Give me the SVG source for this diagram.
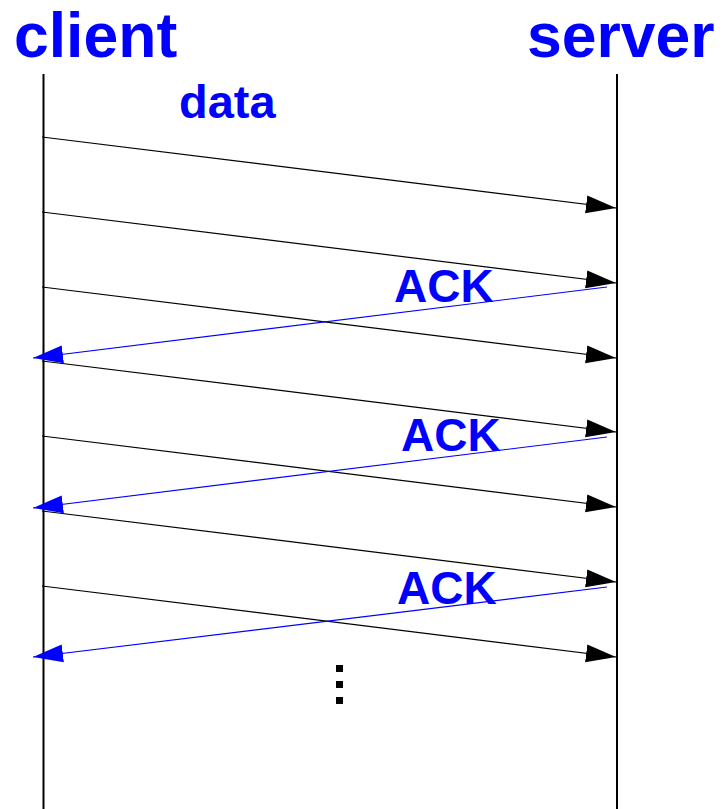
<svg xmlns="http://www.w3.org/2000/svg" width="724" height="809" viewBox="0 0 724 809">
<style>
.lbl{font-family:"Liberation Sans",Arial,sans-serif;font-weight:bold;fill:#0000ff}
.life{stroke:#000;stroke-width:2}
.data{stroke:#000;stroke-width:1.2;fill:none}
.ack{stroke:#0000ff;stroke-width:1.2;fill:none}
</style>
<defs>
<marker id="ab" markerUnits="userSpaceOnUse" markerWidth="32" markerHeight="20" refX="30" refY="9" orient="auto" viewBox="0 0 32 18">
<path d="M0,0 L30,9 L0,18 Z" fill="#000"/>
</marker>
<marker id="aw" markerUnits="userSpaceOnUse" markerWidth="32" markerHeight="20" refX="30" refY="9" orient="auto" viewBox="0 0 32 18">
<path d="M0,0 L30,9 L0,18 Z" fill="#0000ff"/>
</marker>
</defs>
<g id="client">
<text class="lbl" x="14" y="57" font-size="62.5">client</text>
<line class="life" x1="43.5" y1="74" x2="43.5" y2="809"/>
</g>
<g id="server">
<text class="lbl" x="527" y="57" font-size="62.5">server</text>
<line class="life" x1="617" y1="74" x2="617" y2="809"/>
</g>
<g id="labels">
<text class="lbl" x="179" y="118" font-size="47">data</text>
<text class="lbl" x="394" y="302" font-size="46">ACK</text>
<text class="lbl" x="401" y="451" font-size="46">ACK</text>
<text class="lbl" x="397" y="604" font-size="46">ACK</text>
</g>
<g id="connectors">
<line class="data" x1="42" y1="137" x2="616" y2="208" marker-end="url(#ab)"/>
<line class="data" x1="42" y1="212" x2="616" y2="283" marker-end="url(#ab)"/>
<line class="data" x1="42" y1="287" x2="616" y2="358" marker-end="url(#ab)"/>
<line class="data" x1="42" y1="361" x2="616" y2="432" marker-end="url(#ab)"/>
<line class="data" x1="42" y1="436" x2="616" y2="507" marker-end="url(#ab)"/>
<line class="data" x1="42" y1="511" x2="616" y2="582" marker-end="url(#ab)"/>
<line class="data" x1="42" y1="586" x2="616" y2="657" marker-end="url(#ab)"/>
<line class="ack" x1="607" y1="287" x2="33" y2="358" marker-end="url(#aw)"/>
<line class="ack" x1="607" y1="437" x2="33" y2="508" marker-end="url(#aw)"/>
<line class="ack" x1="607" y1="587" x2="33" y2="657" marker-end="url(#aw)"/>
</g>
<g id="ellipsis" fill="#000">
<rect x="336" y="665" width="7" height="7"/>
<rect x="336" y="681" width="7" height="7"/>
<rect x="336" y="697" width="7" height="7"/>
</g>
</svg>
